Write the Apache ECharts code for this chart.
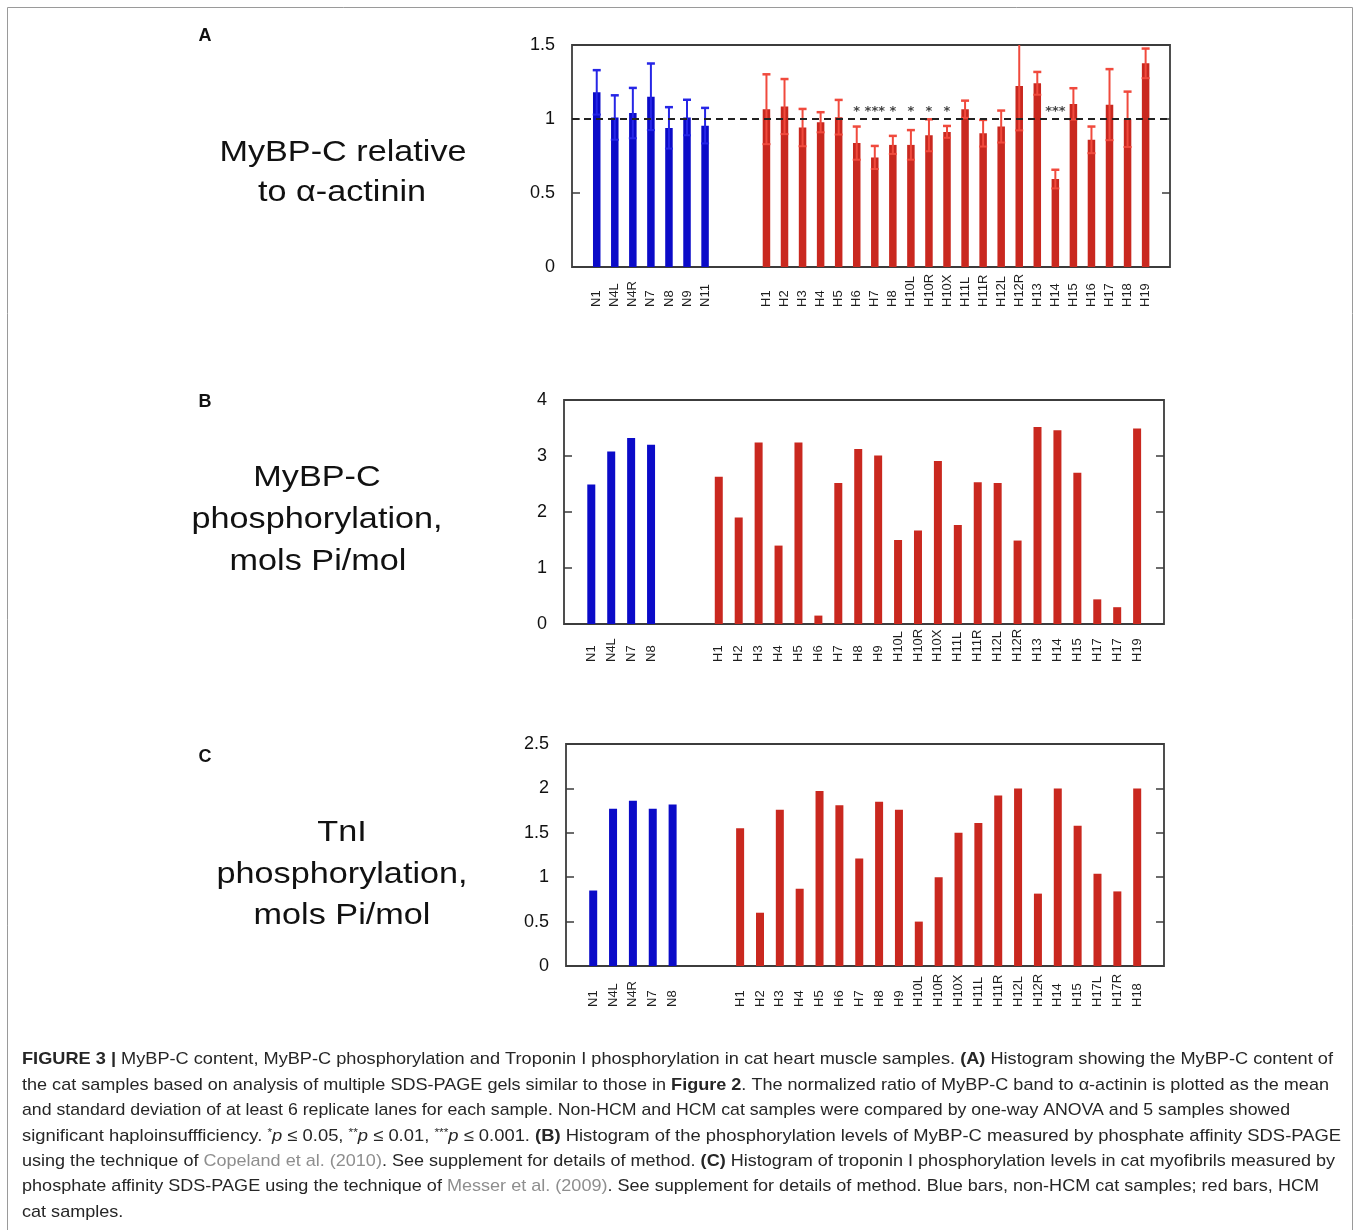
<!DOCTYPE html>
<html>
<head>
<meta charset="utf-8">
<script src="https://cdn.jsdelivr.net/npm/echarts@6/dist/echarts.min.js"></script>
<style>
html, body { margin: 0; padding: 0; background: #fff; }
#chart { width: 1357px; height: 1230px; }
</style>
</head>
<body>
<div id="chart"></div>
<script>
// panel A - MyBP-C relative to alpha-actinin (mean and SD)
var aNormNames = ['N1', 'N4L', 'N4R', 'N7', 'N8', 'N9', 'N11'];
var aNormMean = [1.18, 1.01, 1.04, 1.15, 0.94, 1.01, 0.955];
var aNormSd = [0.15, 0.15, 0.17, 0.225, 0.14, 0.12, 0.12];
var aHcmNames = ['H1', 'H2', 'H3', 'H4', 'H5', 'H6', 'H7', 'H8', 'H10L', 'H10R', 'H10X', 'H11L',
  'H11R', 'H12L', 'H12R', 'H13', 'H14', 'H15', 'H16', 'H17', 'H18', 'H19'];
var aHcmMean = [1.066, 1.084, 0.942, 0.978, 1.012, 0.837, 0.74, 0.825, 0.825, 0.89, 0.913, 1.066,
  0.904, 0.949, 1.223, 1.241, 0.594, 1.102, 0.859, 1.097, 0.998, 1.376];
var aHcmSd = [0.236, 0.186, 0.126, 0.068, 0.117, 0.112, 0.078, 0.061, 0.1, 0.108, 0.04, 0.058,
  0.09, 0.108, 0.3, 0.077, 0.063, 0.106, 0.09, 0.24, 0.187, 0.1];
var aHcmStars = ['', '', '', '', '', '*', '***', '*', '*', '*', '*', '',
  '', '', '', '', '***', '', '', '', '', ''];
var aRefLine = 1;
var aStarLevel = 1.05;

// panel B - MyBP-C phosphorylation, mols Pi/mol
var bNormNames = ['N1', 'N4L', 'N7', 'N8'];
var bNormValues = [2.49, 3.08, 3.32, 3.2];
var bHcmNames = ['H1', 'H2', 'H3', 'H4', 'H5', 'H6', 'H7', 'H8', 'H9', 'H10L', 'H10R', 'H10X',
  'H11L', 'H11R', 'H12L', 'H12R', 'H13', 'H14', 'H15', 'H17', 'H17', 'H19'];
var bHcmValues = [2.63, 1.9, 3.24, 1.4, 3.24, 0.15, 2.52, 3.125, 3.01, 1.5, 1.67, 2.91,
  1.77, 2.53, 2.52, 1.49, 3.52, 3.46, 2.7, 0.44, 0.3, 3.49];

// panel C - TnI phosphorylation, mols Pi/mol
var cNormNames = ['N1', 'N4L', 'N4R', 'N7', 'N8'];
var cNormValues = [0.85, 1.77, 1.86, 1.77, 1.82];
var cHcmNames = ['H1', 'H2', 'H3', 'H4', 'H5', 'H6', 'H7', 'H8', 'H9', 'H10L', 'H10R', 'H10X',
  'H11L', 'H11R', 'H12L', 'H12R', 'H14', 'H15', 'H17L', 'H17R', 'H18'];
var cHcmValues = [1.55, 0.6, 1.76, 0.87, 1.97, 1.81, 1.21, 1.85, 1.76, 0.5, 1.0, 1.5,
  1.61, 1.92, 2.0, 0.815, 2.0, 1.58, 1.04, 0.84, 2.0];

var FONT = '"Liberation Sans", Arial, Helvetica, sans-serif';
var BLUE = '#0b0bc8', RED = '#c9281f';
var BLUE_ERR = '#2626e6', RED_ERR = '#f04a3d';
var GAP = 3.4, PAD_L = 1.37, PAD_R = 1.35;

var chart = echarts.init(document.getElementById('chart'));

function slotPositions(nNorm, nHcm) {
  var p = [];
  for (var i = 0; i < nNorm; i++) p.push(i);
  for (var j = 0; j < nHcm; j++) p.push(nNorm - 1 + GAP + j);
  return p;
}

var grids = [], xAxes = [], yAxes = [], series = [];

function addPanel(k, cfg) {
  var names = cfg.normNames.concat(cfg.hcmNames);
  var values = cfg.normValues.concat(cfg.hcmValues);
  var nNorm = cfg.normNames.length;
  var pos = slotPositions(nNorm, cfg.hcmNames.length);

  grids.push({
    left: cfg.box[0], top: cfg.box[1], width: cfg.box[2], height: cfg.box[3],
    show: true, borderColor: '#3c3c3c', borderWidth: 1.8, backgroundColor: 'transparent',
    outerBoundsMode: 'none'
  });
  xAxes.push({
    type: 'value', gridIndex: k,
    min: -PAD_L, max: pos[pos.length - 1] + PAD_R,
    axisLine: { show: false, onZero: false }, axisTick: { show: false }, splitLine: { show: false },
    axisLabel: {
      customValues: pos,
      rotate: 90, align: 'left', verticalAlign: 'middle',
      margin: cfg.labelMargin, fontSize: 13, fontFamily: FONT, color: '#1e1e1e',
      formatter: function (v) {
        for (var i = 0; i < pos.length; i++) if (Math.abs(pos[i] - v) < 1e-6) return names[i];
        return '';
      }
    }
  });
  [ 'left', 'right' ].forEach(function (side) {
    yAxes.push({
      type: 'value', gridIndex: k, position: side,
      min: 0, max: cfg.yMax, interval: cfg.yStep,
      axisLine: { show: false, onZero: false }, splitLine: { show: false },
      axisTick: { show: true, inside: true, length: 8, lineStyle: { color: '#3c3c3c', width: 1.5 } },
      axisLabel: { show: side === 'left', fontSize: 18, fontFamily: FONT, color: '#111', margin: 17 }
    });
  });

  var bar = {
    type: 'bar', xAxisIndex: k, yAxisIndex: 2 * k, barWidth: cfg.barWidth,
    data: values.map(function (v, i) {
      return { value: [pos[i], v], itemStyle: { color: i < nNorm ? BLUE : RED } };
    })
  };
  if (cfg.refLine != null) {
    bar.markLine = {
      silent: true, symbol: ['none', 'none'], label: { show: false },
      lineStyle: { type: [7, 5], color: '#222', width: 2 },
      data: [{ yAxis: cfg.refLine }]
    };
  }
  series.push(bar);

  if (cfg.normSd) {
    var sds = cfg.normSd.concat(cfg.hcmSd);
    series.push({
      type: 'custom', xAxisIndex: k, yAxisIndex: 2 * k, z: 3,
      data: values.map(function (v, i) { return [pos[i], v - sds[i], v + sds[i], i < nNorm ? 0 : 1]; }),
      encode: { x: 0, y: [1, 2] },
      renderItem: function (params, api) {
        var cs = params.coordSys;
        var lo = api.coord([api.value(0), api.value(1)]);
        var hi = api.coord([api.value(0), api.value(2)]);
        var color = api.value(3) === 0 ? BLUE_ERR : RED_ERR;
        var style = { stroke: color, lineWidth: 2 };
        var capStyle = { stroke: color, lineWidth: 2.5 };
        var top = Math.max(hi[1], cs.y);
        var kids = [
          { type: 'line', shape: { x1: lo[0], y1: lo[1], x2: lo[0], y2: top }, style: style },
          { type: 'line', shape: { x1: lo[0] - 4, y1: lo[1], x2: lo[0] + 4, y2: lo[1] }, style: style }
        ];
        if (hi[1] >= cs.y) {
          kids.push({ type: 'line', shape: { x1: hi[0] - 4, y1: hi[1], x2: hi[0] + 4, y2: hi[1] }, style: capStyle });
        }
        return { type: 'group', children: kids };
      }
    });
  }

  if (cfg.stars) {
    var starData = [];
    cfg.stars.forEach(function (s, j) {
      if (s) starData.push({ name: s, value: [pos[nNorm + j], cfg.starLevel] });
    });
    series.push({
      type: 'scatter', xAxisIndex: k, yAxisIndex: 2 * k, symbolSize: 1, z: 4,
      itemStyle: { color: 'transparent' },
      label: { show: true, position: 'inside', formatter: '{b}', fontSize: 13, fontWeight: 'bold', color: '#111', fontFamily: '"DejaVu Sans", sans-serif' },
      data: starData
    });
  }
}

addPanel(0, {
  normNames: aNormNames, normValues: aNormMean, hcmNames: aHcmNames, hcmValues: aHcmMean,
  normSd: aNormSd, hcmSd: aHcmSd, stars: aHcmStars, starLevel: aStarLevel, refLine: aRefLine,
  yMax: 1.5, yStep: 0.5, box: [572, 45, 598, 222], labelMargin: 40, barWidth: 7.5
});
addPanel(1, {
  normNames: bNormNames, normValues: bNormValues, hcmNames: bHcmNames, hcmValues: bHcmValues,
  yMax: 4, yStep: 1, box: [564, 400, 600, 224], labelMargin: 38, barWidth: 8
});
addPanel(2, {
  normNames: cNormNames, normValues: cNormValues, hcmNames: cHcmNames, hcmValues: cHcmValues,
  yMax: 2.5, yStep: 0.5, box: [566, 744, 598, 222], labelMargin: 41, barWidth: 8
});

// figure frame, panel letters and side titles
var graphics = [];
graphics.push({
  type: 'rect', silent: true, z: -1,
  shape: { x: 7.5, y: 7.5, width: 1345, height: 1240 },
  style: { fill: 'none', stroke: '#9a9a9a', lineWidth: 1 }
});
function addText(txt, x, y, size, weight, scaleX) {
  graphics.push({
    type: 'text', x: x, y: y, scaleX: scaleX || 1, silent: true,
    style: {
      text: txt, fill: '#111', fontSize: size, fontWeight: weight || 'normal', fontFamily: FONT,
      textAlign: 'center', textVerticalAlign: 'middle', align: 'center', verticalAlign: 'middle'
    }
  });
}
addText('A', 205, 36, 18, 'bold');
addText('B', 205, 402, 18, 'bold');
addText('C', 205, 757, 18, 'bold');
addText('MyBP-C relative', 343, 153, 29, 'normal', 1.18);
addText('to α-actinin', 342, 193, 29, 'normal', 1.18);
addText('MyBP-C', 317, 478, 29, 'normal', 1.18);
addText('phosphorylation,', 317, 520, 29, 'normal', 1.18);
addText('mols Pi/mol', 318, 562, 29, 'normal', 1.18);
addText('TnI', 342, 833, 29, 'normal', 1.18);
addText('phosphorylation,', 342, 875, 29, 'normal', 1.18);
addText('mols Pi/mol', 342, 916, 29, 'normal', 1.18);

// caption
var captionLines = [
  [['b', 'FIGURE 3 | '], ['n', 'MyBP-C content, MyBP-C phosphorylation and Troponin I phosphorylation in cat heart muscle samples. '], ['b', '(A)'], ['n', ' Histogram showing the MyBP-C content of']],
  [['n', 'the cat samples based on analysis of multiple SDS-PAGE gels similar to those in '], ['b', 'Figure 2'], ['n', '. The normalized ratio of MyBP-C band to α-actinin is plotted as the mean']],
  [['n', 'and standard deviation of at least 6 replicate lanes for each sample. Non-HCM and HCM cat samples were compared by one-way ANOVA and 5 samples showed']],
  [['n', 'significant haploinsuffficiency. '], ['s', '*'], ['i', 'p'], ['n', ' ≤ 0.05, '], ['s', '**'], ['i', 'p'], ['n', ' ≤ 0.01, '], ['s', '***'], ['i', 'p'], ['n', ' ≤ 0.001. '], ['b', '(B)'], ['n', ' Histogram of the phosphorylation levels of MyBP-C measured by phosphate affinity SDS-PAGE']],
  [['n', 'using the technique of '], ['g', 'Copeland et al. (2010)'], ['n', '. See supplement for details of method. '], ['b', '(C)'], ['n', ' Histogram of troponin I phosphorylation levels in cat myofibrils measured by']],
  [['n', 'phosphate affinity SDS-PAGE using the technique of '], ['g', 'Messer et al. (2009)'], ['n', '. See supplement for details of method. Blue bars, non-HCM cat samples; red bars, HCM']],
  [['n', 'cat samples.']]
];
var captionRight = [1333, 1329, 1290, 1341, 1335, 1319, null];
var captionY = [1059, 1085, 1110, 1136, 1161, 1186, 1212];
var CAP_SIZE = 17, CAP_LEFT = 22;
var capRich = {
  n: { fontSize: CAP_SIZE, fontFamily: FONT, fill: '#262626' },
  b: { fontSize: CAP_SIZE, fontFamily: FONT, fill: '#262626', fontWeight: 'bold' },
  i: { fontSize: CAP_SIZE, fontFamily: FONT, fill: '#262626', fontStyle: 'italic' },
  g: { fontSize: CAP_SIZE, fontFamily: FONT, fill: '#8e8e8e' },
  s: { fontSize: 11, fontFamily: FONT, fill: '#262626', verticalAlign: 'top' }
};
var ctx = document.createElement('canvas').getContext('2d');
function segWidth(key, txt) {
  var r = capRich[key];
  ctx.font = (r.fontStyle || 'normal') + ' ' + (r.fontWeight || 'normal') + ' ' + r.fontSize + 'px ' + FONT;
  return ctx.measureText(txt).width;
}
var lastScale = 1;
captionLines.forEach(function (segs, li) {
  var w = 0, str = '';
  segs.forEach(function (s) { w += segWidth(s[0], s[1]); str += '{' + s[0] + '|' + s[1] + '}'; });
  var sc = captionRight[li] ? (captionRight[li] - CAP_LEFT) / w : lastScale;
  lastScale = sc;
  graphics.push({
    type: 'text', x: CAP_LEFT, y: captionY[li], scaleX: sc, silent: true,
    style: {
      text: str, rich: capRich, fontSize: CAP_SIZE, fontFamily: FONT, fill: '#262626',
      textAlign: 'left', textVerticalAlign: 'middle', align: 'left', verticalAlign: 'middle'
    }
  });
});

var option = {
  backgroundColor: '#fff',
  animation: false,
  grid: grids,
  xAxis: xAxes,
  yAxis: yAxes,
  series: series,
  graphic: graphics
};
chart.setOption(option);
</script>
</body>
</html>
